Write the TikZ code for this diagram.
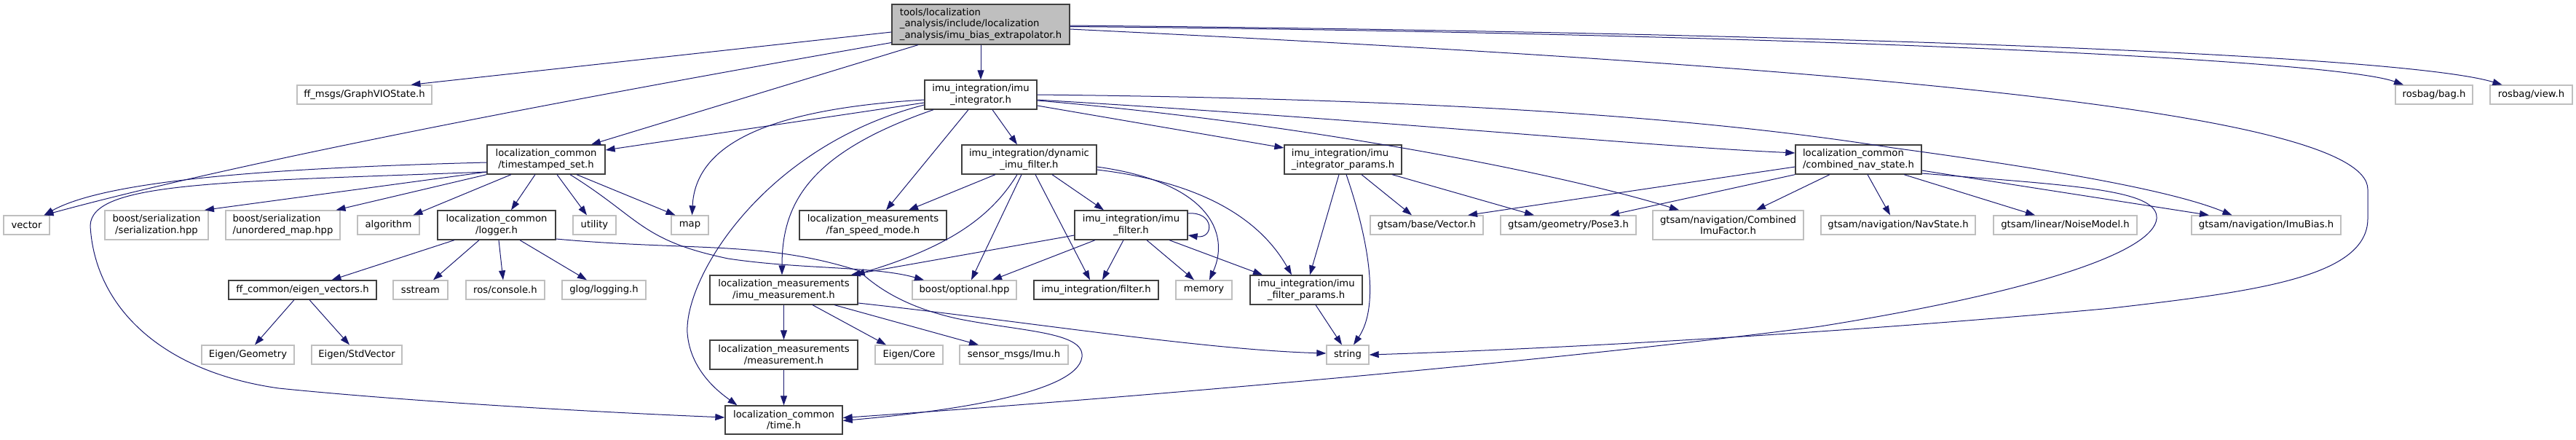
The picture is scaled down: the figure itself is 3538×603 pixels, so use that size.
\documentclass[tikz,border=0pt]{standalone}
\usepackage{fontspec}
\setmainfont{DejaVu Sans}
\usepackage{tikz}
\usetikzlibrary{arrows.meta}
\definecolor{edgeblue}{HTML}{191970}
\definecolor{boxgray}{HTML}{BFBFBF}
\definecolor{boxdark}{HTML}{404040}

\begin{document}
\begin{tikzpicture}[x=1pt,y=-1pt,
  hfile/.style={draw=boxdark, line width=1.3pt, fill=white, inner sep=0pt, align=center,
    font=\fontsize{13.2}{15.4}\selectfont},
  sysfile/.style={hfile, draw=boxgray},
  topfile/.style={hfile, fill=boxgray, align=left},
  wh/.style 2 args={minimum width=#1pt, minimum height=#2pt},
  inc/.style={draw=edgeblue, line width=1pt, -{Triangle[length=13pt,width=9pt]}}]
\useasboundingbox (0,0) rectangle (3538,603);

%====================================================
% ARCHIVOS
%====================================================
\node[topfile, wh={244}{55}] (extrap) at (1347,33.5) {tools/localization\\\_analysis/include/localization\\\_analysis/imu\_bias\_extrapolator.h};

\node[sysfile, wh={185}{26}] (graphvio) at (500.5,130) {ff\_msgs/GraphVIOState.h};
\node[hfile, wh={154}{40}] (integrator) at (1347,130) {imu\_integration/imu\\\_integrator.h};
\node[sysfile, wh={106}{26}] (bag) at (3343,130) {rosbag/bag.h};
\node[sysfile, wh={113}{26}] (view) at (3476.5,130) {rosbag/view.h};

\node[hfile, wh={162}{40}] (tsset) at (750,219) {localization\_common\\/timestamped\_set.h};
\node[hfile, wh={185}{40}] (dynfilter) at (1413.5,219) {imu\_integration/dynamic\\\_imu\_filter.h};
\node[hfile, wh={161}{40}, align=left] (intparams) at (1844.5,219) {imu\_integration/imu\\\_integrator\_params.h};
\node[hfile, wh={173}{40}, align=left] (cnav) at (2552.5,219) {localization\_common\\/combined\_nav\_state.h};

\node[sysfile, wh={63}{26}] (vector) at (36.5,309) {vector};
\node[sysfile, wh={142}{40}] (serial) at (215,309) {boost/serialization\\/serialization.hpp};
\node[sysfile, wh={157}{40}, align=left] (umap) at (388.5,309) {boost/serialization\\/unordered\_map.hpp};
\node[sysfile, wh={85}{26}] (algo) at (533.5,309) {algorithm};
\node[hfile, wh={162}{40}] (logger) at (682,309) {localization\_common\\/logger.h};
\node[sysfile, wh={59}{26}] (utility) at (816.5,309) {utility};
\node[sysfile, wh={51}{26}] (map) at (947.5,309) {map};
\node[hfile, wh={202}{40}] (fanspeed) at (1199,309) {localization\_measurements\\/fan\_speed\_mode.h};
\node[hfile, wh={155}{40}] (imufilter) at (1553.5,309) {imu\_integration/imu\\\_filter.h};
\node[sysfile, wh={155}{26}] (gvector) at (1959.5,309) {gtsam/base/Vector.h};
\node[sysfile, wh={186}{26}] (pose) at (2154,309) {gtsam/geometry/Pose3.h};
\node[sysfile, wh={207}{40}] (cimu) at (2373.5,309) {gtsam/navigation/Combined\\ImuFactor.h};
\node[sysfile, wh={212}{26}] (gnav) at (2607,309) {gtsam/navigation/NavState.h};
\node[sysfile, wh={197}{26}] (noise) at (2836.5,309) {gtsam/linear/NoiseModel.h};
\node[sysfile, wh={205}{26}] (bias) at (3112.5,309) {gtsam/navigation/ImuBias.h};

\node[hfile, wh={203}{26}] (eigvec) at (415.5,398) {ff\_common/eigen\_vectors.h};
\node[sysfile, wh={75}{26}] (sstream) at (577.5,398) {sstream};
\node[sysfile, wh={108}{26}] (console) at (694,398) {ros/console.h};
\node[sysfile, wh={115}{26}] (glog) at (829.5,398) {glog/logging.h};
\node[hfile, wh={203}{40}] (imumeas) at (1076.5,398) {localization\_measurements\\/imu\_measurement.h};
\node[sysfile, wh={143}{26}] (optional) at (1324.5,398) {boost/optional.hpp};
\node[hfile, wh={171}{26}] (filter) at (1505.5,398) {imu\_integration/filter.h};
\node[sysfile, wh={77}{26}] (memory) at (1653.5,398) {memory};
\node[hfile, wh={154}{40}] (filtparams) at (1794,398) {imu\_integration/imu\\\_filter\_params.h};

\node[sysfile, wh={127}{26}] (egeom) at (340.5,487) {Eigen/Geometry};
\node[sysfile, wh={124}{26}] (estd) at (490,487) {Eigen/StdVector};
\node[hfile, wh={203}{40}] (meas) at (1076.5,487) {localization\_measurements\\/measurement.h};
\node[sysfile, wh={93}{26}] (ecore) at (1248.5,487) {Eigen/Core};
\node[sysfile, wh={149}{26}] (imumsg) at (1392.5,487) {sensor\_msgs/Imu.h};
\node[sysfile, wh={58}{26}] (string) at (1851,487) {string};

\node[hfile, wh={161}{39}] (timeh) at (1076.5,576.5) {localization\_common\\/time.h};

%====================================================
% INCLUDES
%====================================================
% extrapolator
\draw[inc] ([yshift=-10.5pt]extrap.west) -- ([xshift=64pt]graphvio.north);
\draw[inc] ([yshift=-25pt]extrap.west) .. controls (700,150) and (300,230) .. ([xshift=24pt]vector.north);
\draw[inc] ([xshift=-86pt]extrap.south) -- ([xshift=62pt]tsset.north);
\draw[inc] (extrap) -- (integrator);
\draw[inc] ([yshift=-1.5pt]extrap.east) .. controls (2500,45) and (3300,75) .. ([xshift=-40pt]view.north);
\draw[inc] ([yshift=-3pt]extrap.east) .. controls (2400,45) and (3200,80) .. ([xshift=-42pt]bag.north);
\draw[inc] ([yshift=-6.5pt]extrap.east) .. controls (2500,90) and (3252,150) .. (3252,260) -- (3252,300)
  .. controls (3252,380) and (3100,400) .. (2900,423) .. controls (2500,460) and (2100,480) .. (string.east);

% integrator
\draw[inc] ([yshift=-7pt]integrator.west) .. controls (1050,150) and (955,200) .. ([xshift=3pt]map.north);
\draw[inc] ([yshift=-11pt]integrator.west) -- ([yshift=13pt]tsset.east);
\draw[inc] ([yshift=-14pt]integrator.west) .. controls (1050,200) and (940,380) .. (944,457)
  .. controls (948,510) and (990,540) .. ([xshift=-64pt]timeh.north);
\draw[inc] ([xshift=-65pt]integrator.south) .. controls (1110,210) and (1074,280) .. ([xshift=-2.5pt]imumeas.north);
\draw[inc] ([xshift=-17pt]integrator.south) -- ([xshift=18pt]fanspeed.north);
\draw[inc] ([xshift=16pt]integrator.south) -- ([xshift=-16.5pt]dynfilter.north);
\draw[inc] ([yshift=-15pt]integrator.east) -- ([yshift=16pt]intparams.west);
\draw[inc] ([yshift=-8pt]integrator.east) .. controls (1800,170) and (2150,240) .. ([xshift=-67.5pt]cimu.north);
\draw[inc] ([yshift=-7pt]integrator.east) .. controls (1900,165) and (2250,200) .. ([yshift=9pt]cnav.west);
\draw[inc] (integrator.east) .. controls (1900,135) and (2300,155) .. (2600,203)
  .. controls (2800,230) and (2980,260) .. ([xshift=-47pt]bias.north);

% timestamped set
\draw[inc] ([yshift=-4pt]tsset.west) .. controls (400,230) and (150,245) .. ([xshift=24pt]vector.north);
\draw[inc] ([yshift=-17pt]tsset.west) .. controls (300,250) and (125,250) .. (124,310)
  .. controls (130,420) and (220,510) .. (383,533) .. controls (550,550) and (800,565) .. ([yshift=3.5pt]timeh.west);
\draw[inc] ([yshift=-17pt]tsset.west) -- ([xshift=66pt]serial.north);
\draw[inc] (tsset.south west) -- ([xshift=73pt]umap.north);
\draw[inc] ([xshift=-48pt]tsset.south) -- ([xshift=34pt]algo.north);
\draw[inc] ([xshift=-15pt]tsset.south) -- ([xshift=20pt]logger.north);
\draw[inc] ([xshift=15pt]tsset.south) -- ([xshift=-10.5pt]utility.north);
\draw[inc] ([xshift=42pt]tsset.south) -- ([xshift=-20pt]map.north);
\draw[inc] ([xshift=33pt]tsset.south) .. controls (880,300) and (880,330) .. (1000,355)
  .. controls (1100,370) and (1200,365) .. ([xshift=-55.5pt]optional.north);

% logger
\draw[inc] ([xshift=-58pt]logger.south) -- ([xshift=40pt]eigvec.north);
\draw[inc] ([xshift=-24pt]logger.south) -- ([xshift=17.5pt]sstream.north);
\draw[inc] ([xshift=3pt]logger.south) -- ([xshift=-3pt]console.north);
\draw[inc] ([xshift=32pt]logger.south) -- ([xshift=-23.5pt]glog.north);
\draw[inc] ([yshift=-19pt]logger.east) .. controls (950,345) and (1050,330) .. (1180,372)
  .. controls (1215,405) and (1260,425) .. (1313,437)
  .. controls (1400,455) and (1490,455) .. (1486,490)
  .. controls (1480,540) and (1300,565) .. ([yshift=-1pt]timeh.east);

% eigen vectors
\draw[inc] ([xshift=-11.5pt]eigvec.south) -- ([xshift=9.5pt]egeom.north);
\draw[inc] ([xshift=9.5pt]eigvec.south) -- ([xshift=-10pt]estd.north);

% dynamic filter
\draw[inc] ([xshift=-46.5pt]dynfilter.south) -- ([xshift=49pt]fanspeed.north);
\draw[inc] ([xshift=-16.5pt]dynfilter.south) .. controls (1360,300) and (1300,340) .. ([xshift=-4pt]imumeas.north east);
\draw[inc] ([xshift=-10.5pt]dynfilter.south) -- ([xshift=9.5pt]optional.north);
\draw[inc] ([xshift=8.5pt]dynfilter.south) -- ([xshift=-8.5pt]filter.north);
\draw[inc] ([xshift=31.5pt]dynfilter.south) -- ([xshift=-37.5pt]imufilter.north);
\draw[inc] ([yshift=-10pt]dynfilter.east) .. controls (1660,250) and (1690,320) .. ([xshift=7.5pt]memory.north);
\draw[inc] ([yshift=-14pt]dynfilter.east) .. controls (1650,250) and (1730,300) .. ([xshift=-20pt]filtparams.north);

% imu filter
\draw[inc] ([yshift=16pt]imufilter.east) .. controls (1668,290) and (1668,328) .. ([yshift=-14pt]imufilter.east);
\draw[inc] ([yshift=-14pt]imufilter.west) -- ([xshift=-10pt]imumeas.north east);
\draw[inc] ([xshift=-49.5pt]imufilter.south) -- ([xshift=38.5pt]optional.north);
\draw[inc] ([xshift=-10.5pt]imufilter.south) -- ([xshift=8.5pt]filter.north);
\draw[inc] ([xshift=21.5pt]imufilter.south) -- ([xshift=-13.5pt]memory.north);
\draw[inc] ([xshift=52.5pt]imufilter.south) -- ([xshift=-60pt]filtparams.north);

% integrator params
\draw[inc] ([xshift=-5.5pt]intparams.south) -- ([xshift=5pt]filtparams.north);
\draw[inc] ([xshift=4.5pt]intparams.south) .. controls (1880,330) and (1895,420) .. ([xshift=8pt]string.north);
\draw[inc] ([xshift=25.5pt]intparams.south) -- ([xshift=-20.5pt]gvector.north);
\draw[inc] ([xshift=67.5pt]intparams.south) -- ([xshift=-47pt]pose.north);
\draw[inc] ([xshift=13pt]filtparams.south) -- ([xshift=-8pt]string.north);

% combined nav state
\draw[inc] ([yshift=-10pt]cnav.west) -- ([xshift=56.5pt]gvector.north);
\draw[inc] (cnav.south west) -- ([xshift=57pt]pose.north);
\draw[inc] ([xshift=-39.5pt]cnav.south) -- ([xshift=38.5pt]cimu.north);
\draw[inc] ([xshift=12.5pt]cnav.south) -- ([xshift=-11pt]gnav.north);
\draw[inc] ([xshift=62.5pt]cnav.south) -- ([xshift=-41.5pt]noise.north);
\draw[inc] ([yshift=-15pt]cnav.east) -- ([xshift=-78.5pt]bias.north);
\draw[inc] ([yshift=-19pt]cnav.east) .. controls (2850,255) and (2965,260) .. (2962,300)
  .. controls (2958,345) and (2800,400) .. (2500,448) .. controls (2100,500) and (1500,550) .. ([yshift=3pt]timeh.east);

% measurements
\draw[inc] (imumeas) -- (meas);
\draw[inc] ([xshift=39.5pt]imumeas.south) -- ([xshift=-31.5pt]ecore.north);
\draw[inc] ([xshift=69.5pt]imumeas.south) -- ([xshift=-48.5pt]imumsg.north);
\draw[inc] ([yshift=-18pt]imumeas.east) .. controls (1400,440) and (1650,480) .. ([yshift=2pt]string.west);
\draw[inc] (meas) -- (timeh);
\end{tikzpicture}
\end{document}
